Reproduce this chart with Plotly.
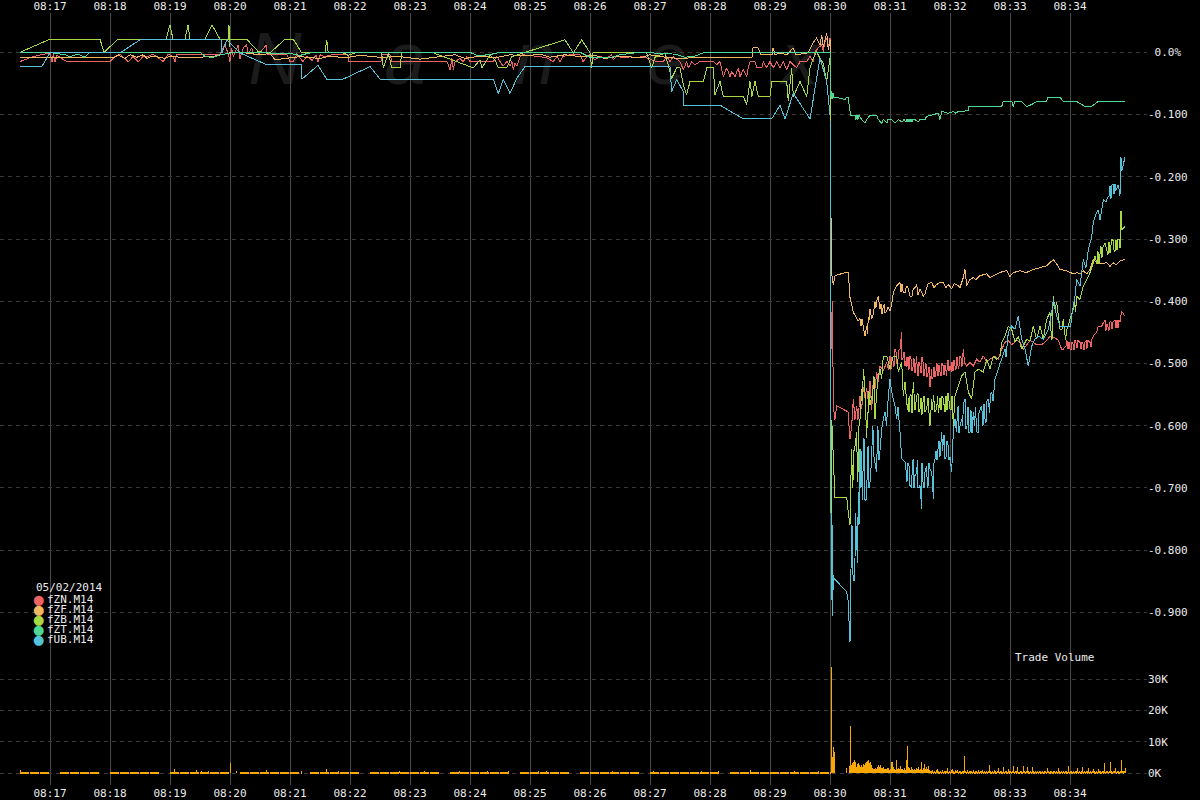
import pandas as pd
import plotly.graph_objects as go

# ---------------- data ----------------
SESSION = "05/02/2014"
T0 = pd.Timestamp("2014-05-02 08:17:00")      # times below are seconds after 08:17:00

series_names = ["fZN.M14", "fZF.M14", "fZB.M14", "fZT.M14", "fUB.M14"]
series_colors = ["#ee6464", "#f0b862", "#a8d844", "#4ed894", "#56c2da"]
VOL_COLOR = "#f8a800"

# (seconds, % change)
fzn = [(-30,-0.015),(-17,-0.007),(0,-0.001),(2,-0.015),(3.5,-0.003),(5,-0.015),(7,-0.005),(16.7,-0.015),(60,-0.015),(65,-0.007),(70,-0.003),(78.3,-0.015),(83,-0.007),(88.3,-0.015),(93,-0.007),(98,-0.007),(103,-0.003),(113.3,-0.015),(118,-0.003),(123,-0.007),(125,-0.015),(126.7,-0.003),(136.7,-0.003),(170,-0.003),(175,0.012),(178.3,-0.003),(180,-0.015),(181.7,0.007),(183.3,-0.007),(188.3,0.012),(190,-0.010),(193.3,0.007),(196.7,0.012),(198.3,-0.003),(201.7,0.007),(203.3,-0.003),(208.3,-0.003),(216.7,0.012),(217,-0.003),(236.7,-0.003),(240,-0.015),(243.3,-0.015),(246.7,-0.003),
       (250,-0.009),(253,-0.015),(257,-0.006),(262,-0.013),(266,-0.005),(268,-0.015),(270,-0.004),(274,-0.007),(282,-0.004),(298,-0.004),(298.3,-0.015),(331,-0.015),(332,-0.004),(340,-0.004),(342,-0.015),(383,-0.015),(397,-0.015),(400,-0.028),(402,-0.010),(403.3,-0.028),(405,-0.015),(410,-0.010),(413,-0.015),(417,-0.007),(420,-0.015),(430,-0.015),(443,-0.015),(447,-0.007),(450,-0.015),(453,-0.022),(457,-0.015),(460,-0.022),(462,-0.015),(463.3,-0.028),(465,-0.018),(467,-0.022),(470,-0.007),(473,-0.004),(490,-0.007),(497,-0.009),(503,-0.015),(507,-0.007),(510,-0.015),(513,-0.007),(520,-0.004),(530,-0.004),(533,-0.015),(537,-0.007),(540,-0.004),
       (541.7,-0.007),(545,-0.012),(550,-0.007),(556.7,-0.009),(561.7,-0.004),(563.3,-0.012),(566.7,-0.007),(576.7,-0.009),(580,-0.007),(586.7,-0.009),(591.7,-0.007),(596.7,-0.009),(606.7,-0.015),(613.3,-0.015),(616.7,-0.007),(620,-0.015),(623.3,-0.007),(630,-0.015),(633.3,-0.028),(636.7,-0.015),(638.3,-0.025),(641.7,-0.015),(645,-0.020),(650,-0.015),(663.3,-0.015),(666.7,-0.020),(670,-0.015),(673.3,-0.039),(676.7,-0.025),(680,-0.039),(681.7,-0.031),(685,-0.039),(688.3,-0.025),(690,-0.039),(693.3,-0.028),(696.7,-0.039),(698.3,-0.025),(700,-0.015),(705,-0.015),(706.7,-0.025),(711.7,-0.025),(713.3,-0.015),(716.7,-0.025),(720,-0.015),(723.3,-0.025),(726.7,-0.015),(730,-0.025),(733.3,-0.015),(736.7,-0.028),(740,-0.015),(743.3,-0.020),(746.7,-0.025),(750,-0.015),(756.7,-0.015),(760,-0.007),(763.3,-0.015),(765,0.001),(768.3,0.007),(771.7,0.012),(773.3,0.001),(775,0.017),(776.7,0.023),(778.3,0.007),(780,0.023),
       (780.7,-0.389),(781.7,-0.477),(782.5,-0.400),(783.3,-0.568),(785,-0.590),(786.7,-0.568),(798.3,-0.578),(799,-0.600),(800,-0.621),(801.7,-0.600),(803.3,-0.557),(805,-0.590),(806.7,-0.568),(808,-0.590),(810,-0.552),(811.7,-0.573),(813.3,-0.538),(815,-0.556),(816.7,-0.540),(818.3,-0.560),(820,-0.528),(821.7,-0.575),(823.3,-0.525),(825,-0.540),(826.7,-0.514),(828.3,-0.530),(830,-0.504),(833.3,-0.512),(836.7,-0.498),(838.3,-0.510),(840,-0.488),(843.3,-0.498),(845,-0.477),(848.3,-0.490),(850,-0.477),(851.7,-0.450),(853.3,-0.490),(855,-0.504),(856.7,-0.490),(860,-0.488),(863.3,-0.504),(866.7,-0.488),(870,-0.504),(872,-0.490),(875,-0.509),(878.3,-0.514),(880,-0.538),(881.7,-0.509),(883.3,-0.520),(886.7,-0.504),(890,-0.514),(893.3,-0.504),(896.7,-0.520),(900,-0.504),(901.7,-0.514),(905,-0.504),(908.3,-0.509),(911.7,-0.493),(913.3,-0.477),(916.7,-0.504),(920,-0.498),(923.3,-0.504),(926.7,-0.493),(930,-0.498),(933.3,-0.488),(936.7,-0.498),(940,-0.493),(945,-0.488),(948.3,-0.493),(951.7,-0.477),(955,-0.466),(958.3,-0.463),(961.7,-0.470),(966.7,-0.463),(970,-0.466),(973.3,-0.477),(976.7,-0.470),(980,-0.463),(983.3,-0.466),(986.7,-0.470),(991.7,-0.470),(996.7,-0.463),(1000,-0.456),(1005,-0.459),(1008.3,-0.463),(1011.7,-0.477),(1013.3,-0.477),(1016.7,-0.470),(1020,-0.477),(1023.3,-0.470),(1026.7,-0.470),(1030,-0.466),(1033.3,-0.470),(1036.7,-0.463),(1040,-0.466),(1043.3,-0.456),(1046.7,-0.450),(1048.3,-0.440),(1051.7,-0.440),(1053.3,-0.435),(1055,-0.430),(1060,-0.433),(1065,-0.430),(1070,-0.433),(1071.7,-0.416),(1075,-0.424)]
# rapid back-and-forth trades that make the thick red bands
fzn_band = [(841,-0.510),(842,-0.490),(844,-0.505),(846,-0.482),(847,-0.500),(849,-0.478),(852,-0.495),(854,-0.482),(857,-0.505),(858,-0.490),(859,-0.510),(861,-0.492),(862,-0.512),(864,-0.492),(865,-0.515),(867,-0.500),(868,-0.520),(869,-0.498),(871,-0.515),(873,-0.498),(874,-0.520),(876,-0.500),(877,-0.522),(879,-0.505),(882,-0.525),(884,-0.505),(885,-0.522),(887,-0.500),(888,-0.520),(889,-0.503),(891,-0.520),(892,-0.500),(894,-0.518),(895,-0.502),(897,-0.510),(898,-0.495),(899,-0.512),(902,-0.498),(903,-0.512),(904,-0.495),(906,-0.510),(907,-0.490),(909,-0.505),(910,-0.488),(912,-0.505),(914,-0.490),(915,-0.500),
            (1017,-0.463),(1018,-0.477),(1019,-0.465),(1021,-0.478),(1022,-0.466),(1024,-0.478),(1025,-0.463),(1027,-0.475),(1028,-0.463),(1031,-0.477),(1032,-0.466),(1034,-0.478),(1035,-0.466),(1037,-0.476),(1038,-0.463),(1041,-0.474),(1042,-0.461),(1056,-0.447),(1057,-0.436),(1059,-0.447),(1061,-0.433),(1062,-0.445),(1063,-0.433),(1066,-0.443),(1067,-0.430),(1068,-0.443),(1069,-0.430)]

fzf = [(-30,-0.008),(0,-0.008),(16,-0.008),(65,-0.008),(68,-0.004),(75,-0.010),(80,-0.004),(87,-0.008),(93,-0.004),(97,-0.010),(102,-0.006),(110,-0.008),(115,-0.010),(120,-0.006),(130,-0.008),(150,-0.008),(165,-0.006),(180,-0.001),(195,-0.001),(210,-0.004),(220,-0.002),(225,-0.012),(250,-0.007),(270,-0.010),(280,-0.006),(295,-0.009),(310,-0.005),(330,-0.008),(350,-0.007),(370,-0.011),(390,-0.007),(405,-0.004),(415,-0.010),(430,-0.006),(445,-0.009),(460,-0.004),(475,-0.006),(490,-0.003),(500,-0.008),(515,-0.004),(530,-0.007),(545,-0.005),(555,-0.010),(570,-0.006),(590,-0.009),(600,-0.004),(615,-0.008),(630,-0.010),(650,-0.008),(670,-0.009),(690,-0.008),(702,-0.008),(703,0.007),(708,0.007),(711,-0.004),(722,-0.004),(723,0.007),(725,-0.004),(730,-0.001),(737,-0.004),(743,0.007),(746,-0.004),(758,-0.001),(763,0.015),(766.7,0.023),(770,0.012),(771.7,0.028),(773.3,0.009),(776.7,0.031),(778.3,0.004),(780,0.019),
       (780.8,-0.250),(781.5,-0.300),(782,-0.360),(783.3,-0.373),(785,-0.359),(795,-0.354),(798.3,-0.354),(800,-0.394),(801.7,-0.405),(803.3,-0.418),(806,-0.425),(808,-0.432),(810,-0.428),(813.3,-0.442),(815,-0.456),(816.7,-0.440),(818.3,-0.425),(820,-0.413),(821.7,-0.428),(823.3,-0.420),(825,-0.402),(828.3,-0.392),(830,-0.413),(833.3,-0.408),(836,-0.418),(838,-0.410),(840,-0.416),(841.7,-0.405),(843.3,-0.386),(846.7,-0.375),(850,-0.370),(853.3,-0.386),(856.7,-0.375),(860,-0.392),(863.3,-0.380),(866.7,-0.373),(870,-0.380),(873.3,-0.392),(876.7,-0.378),(881.7,-0.370),(886.7,-0.373),(893.3,-0.370),(898.3,-0.373),(901.7,-0.380),(906.7,-0.373),(913.3,-0.362),(915,-0.349),(916.7,-0.375),(920,-0.365),(923.3,-0.362),(930,-0.359),(936.7,-0.356),(943.3,-0.359),(950,-0.354),(956.7,-0.351),(963.3,-0.354),(970,-0.351),(983.3,-0.349),(990,-0.346),(996.7,-0.343),(1003.3,-0.333),(1006.7,-0.340),(1010,-0.349),(1016.7,-0.351),(1023.3,-0.356),(1026.7,-0.354),(1030,-0.356),(1033.3,-0.351),(1036.7,-0.356),(1040,-0.349),(1043.3,-0.333),(1046.7,-0.338),(1050,-0.340),(1056.7,-0.338),(1063.3,-0.338),(1070,-0.335),(1075,-0.333)]
fzf_band = [(811,-0.440),(812,-0.428),(817.5,-0.452),(819,-0.430),(826,-0.410),(827,-0.398),(831,-0.405),(832,-0.420),(834.5,-0.405),(835,-0.418),(851,-0.385),(852,-0.372),(855,-0.386),(858,-0.378),(862,-0.392),(865,-0.378),(868,-0.390),(875,-0.388),(878,-0.372),(884,-0.378),(890,-0.370),(896,-0.378),(904,-0.372),(910,-0.378),(926,-0.365),(940,-0.362),(953,-0.352),(960,-0.360),(976,-0.354),(1060,-0.344),(1066,-0.342)]

fzb = [(-30,0.0),(0,0.021),(50,0.021),(54,0.0),(68,0.021),(116,0.021),(120,0.044),(123,0.021),(135,0.021),(138,0.044),(140,0.021),(155,0.021),(162,0.044),(170,0.021),(178.5,0.021),(179,0.044),(179.5,0.008),(180,0.021),(196.7,0.021),(208.3,0.001),(220,-0.001),(235,0.021),(243.3,0.021),(251.7,-0.001),(275,-0.001),(276.7,0.020),(278.3,-0.001),(293.3,-0.001),(298,-0.005),(305,-0.001),(331.7,-0.001),(333.3,-0.025),(338.3,-0.001),(341.7,-0.025),(350,-0.025),(351.7,-0.001),(383.3,-0.001),(423.3,-0.025),(430,-0.012),(432,-0.025),(440,-0.004),(445,-0.012),(448.3,-0.025),(456.7,-0.025),(461.7,-0.007),(473.3,-0.001),(515,0.020),(523.3,-0.001),(531.7,0.020),(540,-0.001),(541.7,-0.025),(543,-0.001),(596.7,-0.001),(601.7,-0.025),(605,-0.008),(615,-0.001),(621.7,-0.042),(626.7,-0.025),(630,-0.025),(633.3,-0.052),(636.7,-0.068),(640,-0.047),(653.3,-0.047),(656.7,-0.025),(663.3,-0.025),(665,-0.068),(670,-0.047),(673.3,-0.071),(693.3,-0.071),(696.7,-0.084),(700,-0.047),(702,-0.071),(705,-0.047),(708.3,-0.071),(720,-0.071),(721.7,-0.047),(736.7,-0.047),(738.3,-0.079),(741.7,-0.025),(743.3,-0.071),(750,-0.047),(756.7,-0.071),(760,-0.025),(763.3,-0.010),(766.7,0.001),(770,-0.010),(773.3,-0.018),(776.7,-0.047),(779,-0.020),(780,-0.010),
       (780.8,-0.530),(781.5,-0.740),(782.2,-0.600),(783.3,-0.653),(785,-0.715),(796.7,-0.715),(798.3,-0.739),(800,-0.760),(800.7,-0.700),(801.7,-0.637),(803.3,-0.680),(805,-0.632),(806.7,-0.610),(808.3,-0.665),(810,-0.589),(811.7,-0.541),(813.3,-0.509),(815,-0.546),(816.7,-0.620),(818.3,-0.578),(820,-0.567),(821.7,-0.552),(823.3,-0.530),(825,-0.589),(826.7,-0.546),(828.3,-0.520),(830,-0.509),(831.7,-0.525),(833.3,-0.488),(836.7,-0.488),(840,-0.509),(843.3,-0.488),(846.7,-0.488),(848.3,-0.514),(851.7,-0.498),(853.3,-0.552),(855,-0.530),(856.7,-0.562),(860,-0.552),(863.3,-0.530),(866.7,-0.552),(870,-0.573),(873.3,-0.557),(876.7,-0.573),(880,-0.600),(881.7,-0.557),(886.7,-0.573),(893.3,-0.557),(900,-0.573),(903.3,-0.600),(905,-0.552),(908.3,-0.536),(911.7,-0.520),(915,-0.514),(918.3,-0.546),(921.7,-0.557),(925,-0.514),(928.3,-0.509),(933.3,-0.514),(936.7,-0.493),(940,-0.509),(943.3,-0.488),(946.7,-0.493),(950,-0.488),(951.7,-0.466),(955,-0.456),(958.3,-0.440),(961.7,-0.445),(965,-0.466),(968.3,-0.456),(971.7,-0.477),(976.7,-0.461),(980,-0.464),(983.3,-0.440),(986.7,-0.461),(990,-0.440),(993.3,-0.461),(996.7,-0.429),(1000,-0.418),(1003.3,-0.392),(1005,-0.413),(1006.7,-0.402),(1010,-0.445),(1013.3,-0.429),(1020,-0.429),(1023.3,-0.413),(1026.7,-0.392),(1030,-0.397),(1033.3,-0.376),(1036.7,-0.365),(1040,-0.354),(1043.3,-0.338),(1045,-0.327),(1047,-0.340),(1050,-0.325),(1053,-0.313),(1055,-0.306),(1058,-0.325),(1061.7,-0.301),(1065,-0.320),(1068,-0.301),(1071,-0.255),(1071.7,-0.285),(1075,-0.280)]
fzb_band = [(802.5,-0.700),(804,-0.640),(807.5,-0.690),(809,-0.600),(812.5,-0.560),(814,-0.520),(817.5,-0.580),(819,-0.545),(822.5,-0.560),(824,-0.520),(857.5,-0.575),(858.5,-0.555),(859,-0.578),(861,-0.550),(862,-0.580),(864,-0.548),(865,-0.575),(868,-0.548),(869,-0.578),(871,-0.555),(872,-0.582),(874,-0.552),(875,-0.578),(878,-0.555),(879,-0.580),(882.5,-0.575),(883.5,-0.550),(885,-0.578),(887.5,-0.552),(888.5,-0.580),(890,-0.555),(891,-0.575),(892,-0.552),(895,-0.578),(896,-0.552),(897,-0.575),(898,-0.548),(901,-0.575),(902,-0.552),
            (1001,-0.448),(1002,-0.462),(1012,-0.445),(1015.5,-0.462),(1017,-0.445),(1024.5,-0.400),(1025.5,-0.418),(1048,-0.320),(1049,-0.338),(1051,-0.312),(1052,-0.330),(1059,-0.305),(1060,-0.322),(1063,-0.302),(1064,-0.318),(1066,-0.302),(1067,-0.318),(1069,-0.300),(1070,-0.315)]

fzt = [(-30,0.0),(-2,0.0),(15,-0.004),(20,-0.007),(28,-0.003),(35,-0.008),(40,0.0),(150,0.0),(155,-0.006),(162,-0.009),(170,-0.004),(182,-0.001),(190,0.0),(240,-0.002),(250,-0.005),(260,-0.001),(350,0.0),(420,0.0),(428,-0.006),(442,-0.003),(450,0.0),(530,0.0),(540,-0.008),(560,-0.009),(570,-0.004),(590,0.0),(625,-0.003),(635,-0.008),(645,-0.006),(655,0.0),(780,0.0),
       (781,-0.071),(781.5,-0.062),(782,-0.075),(783,-0.066),(784,-0.074),(785,-0.072),(795,-0.076),(796.7,-0.072),(798.3,-0.072),(799.3,-0.087),(800.7,-0.101),(805,-0.101),(806,-0.108),(807,-0.101),(808,-0.108),(809,-0.101),(811.7,-0.108),(815,-0.114),(816.7,-0.108),(820,-0.101),(826.7,-0.101),(828.3,-0.108),(831.7,-0.114),(833.3,-0.108),(837,-0.113),(838,-0.108),(841.7,-0.108),(845,-0.114),(848.3,-0.108),(852,-0.112),(854,-0.108),(865,-0.108),(868,-0.112),(870,-0.108),(875,-0.108),(876.7,-0.103),(888.3,-0.098),(890,-0.108),(891.7,-0.095),(898.3,-0.098),(903.3,-0.095),(906,-0.098),(908,-0.095),(918.3,-0.094),(918.4,-0.087),(951.7,-0.087),(953.3,-0.079),(961.7,-0.079),(963.3,-0.087),(965,-0.079),(971.7,-0.079),(976.7,-0.087),(981.7,-0.084),(986.7,-0.079),(996.7,-0.079),(997.7,-0.072),(1010,-0.072),(1013.3,-0.079),(1026.7,-0.079),(1035,-0.087),(1041.7,-0.087),(1048.3,-0.079),(1075,-0.079)]
fzt_band = [(805.5,-0.108),(806.5,-0.101),(807.5,-0.108),(808.5,-0.101),(856,-0.112),(857,-0.108),(858,-0.112),(859,-0.108),(860,-0.112),(861,-0.108),(862,-0.112),(863,-0.108)]

fub = [(-30,-0.023),(-8.3,-0.023),(0,-0.001),(70,-0.001),(90,0.020),(171,0.020),(172,-0.001),(176.7,0.020),(190,-0.001),(216.7,-0.020),(251.7,-0.020),(252,-0.043),(268,-0.021),(276.7,-0.043),(293.3,-0.043),(320,-0.023),(330,-0.043),(443.3,-0.043),(448.3,-0.066),(453.3,-0.044),(460,-0.066),(466.7,-0.042),(475,-0.023),(620,-0.023),(621.7,-0.063),(626.7,-0.044),(633.3,-0.063),(633.5,-0.085),(670,-0.085),(693.3,-0.107),(721.7,-0.107),(730,-0.085),(735,-0.107),(743.3,-0.066),(760,-0.107),(770,-0.009),(776.7,-0.047),(780,-0.100),
       (781,-0.740),(781.5,-0.880),(782,-0.760),(782.5,-0.905),(783.3,-0.840),(784,-0.845),(796.7,-0.867),(798,-0.880),(800,-0.947),(800.5,-0.870),(801.7,-0.787),(803,-0.840),(805,-0.813),(806,-0.760),(807,-0.800),(808.3,-0.707),(809,-0.760),(810,-0.637),(811,-0.700),(813.3,-0.648),(815,-0.720),(816.7,-0.717),(818.3,-0.632),(820,-0.690),(821.7,-0.653),(823.3,-0.610),(825,-0.660),(826.7,-0.675),(828.3,-0.610),(830,-0.640),(831.7,-0.605),(833.3,-0.589),(835,-0.578),(836.5,-0.600),(838.3,-0.552),(840,-0.525),(841.7,-0.546),(845,-0.568),(846.7,-0.589),(848,-0.570),(850,-0.610),(851.7,-0.653),(855,-0.658),(856.7,-0.680),(858,-0.660),(860,-0.696),(863.3,-0.653),(865,-0.680),(866.7,-0.675),(868,-0.700),(870,-0.696),(871.7,-0.733),(873,-0.690),(875,-0.675),(878.3,-0.696),(880,-0.670),(881.7,-0.675),(883.3,-0.717),(885,-0.653),(888.3,-0.632),(890,-0.650),(891.7,-0.610),(895,-0.653),(898.3,-0.632),(900,-0.650),(901.7,-0.675),(903.3,-0.610),(905,-0.589),(908.3,-0.568),(910,-0.600),(911.7,-0.589),(915,-0.557),(917,-0.600),(920,-0.610),(923.3,-0.578),(926.7,-0.610),(929,-0.580),(931.7,-0.568),(935,-0.589),(938.3,-0.557),(941.7,-0.546),(943,-0.560),(945,-0.525),(948.3,-0.509),(950,-0.500),(951.7,-0.493),(955,-0.477),(956,-0.490),(958.3,-0.450),(961.7,-0.440),(965,-0.445),(968.3,-0.424),(971.7,-0.461),(975,-0.477),(978.3,-0.504),(981.7,-0.472),(985,-0.461),(988.3,-0.456),(993.3,-0.461),(998.3,-0.445),(1001.7,-0.418),(1003.3,-0.397),(1006.7,-0.424),(1010,-0.440),(1020.7,-0.440),(1021.7,-0.424),(1025,-0.391),(1026.7,-0.365),(1030,-0.375),(1033.3,-0.333),(1036,-0.346),(1038.3,-0.317),(1041.7,-0.297),(1043.3,-0.273),(1046.7,-0.257),(1048.3,-0.253),(1050,-0.270),(1053.3,-0.237),(1056,-0.240),(1058.3,-0.231),(1063.3,-0.213),(1066,-0.222),(1068.3,-0.213),(1070,-0.230),(1071,-0.169),(1071.7,-0.191),(1075,-0.169)]
fub_band = [(801,-0.830),(802,-0.760),(804,-0.850),(805.5,-0.740),(807.5,-0.820),(809.5,-0.700),(811.5,-0.640),(812.5,-0.720),(814,-0.620),(817.5,-0.640),(819,-0.700),(822.5,-0.600),(824,-0.650),(827.5,-0.600),(829,-0.655),
            (857,-0.690),(859,-0.665),(861.5,-0.700),(862.5,-0.660),(864,-0.700),(867.5,-0.655),(869,-0.700),(872,-0.660),(874,-0.700),(876.5,-0.665),(877.5,-0.700),(879,-0.660),(882.5,-0.690),(884,-0.660),(886,-0.640),(887,-0.655),(889,-0.625),(892.5,-0.640),(894,-0.615),(896,-0.650),(897,-0.625),(899,-0.655),(902.5,-0.640),
            (906.5,-0.610),(907.5,-0.575),(909,-0.612),(912.5,-0.600),(913.5,-0.565),(916,-0.605),(918,-0.570),(919,-0.612),(921,-0.575),(922,-0.612),(924.5,-0.600),(925.5,-0.570),(928,-0.612),(930,-0.575),(933,-0.600),(934,-0.565),(936,-0.595),(937,-0.560),(939.5,-0.580),(940.5,-0.548),
            (1059,-0.232),(1060,-0.215),(1061,-0.235),(1062,-0.213),(1064,-0.228),(1065,-0.212)]

series_data = [fzn + fzn_band, fzf + fzf_band, fzb + fzb_band, fzt + fzt_band, fub + fub_band]

# trade volume (thousands of contracts)
pre_vol_start, pre_vol_step = -30, 10          # 10-second buckets before the release
pre_vol_k = [0.4,0.3,0.4,0,0.4,0.3,0.4,0.4,0,0.3, 0.4,0.4,0.3,0.4,0,0.4,0.3,0.4,0.4,0.3,
             0.4,0,0.4,0.3,0.4,0.4,0.3,0.4,0,0.4, 0.3,0.4,0.4,0.3,0,0.4,0.4,0.3,0.4,0.4,
             0.3,0.4,0,0.4,0.4,0.3,0.4,0.4,0.3,0, 0.4,0.4,0.3,0.4,0.4,0,0.3,0.4,0.4,0.3,
             0.4,0.4,0,0.3,0.4,0.4,0.3,0.4,0.4,0.3, 0,0.4,0.4,0.3,0.4,0.4,0.3,0.4,0.3,0.4, 0.4]
pre_spike_sec = [-30,124,146,151,158,180,186,216,251,276,288,349,374,409,437,458,488,496,562,603,651,668,700,744,768]
pre_spike_k   = [1.1,1.4,1.0,0.8,0.9,3.2,0.9,1.2,0.6,1.3,0.6,0.7,0.6,0.8,0.6,0.7,0.8,0.6,0.7,0.9,0.8,0.7,1.0,0.9,0.8]
post_vol_start = 780                              # per-second volume from 08:30:00
post_vol_k = [0.3,33.9,5.3,8.5,6.9,0,0,0,0,0,0,0,0,0,0,0,1.6,0,0,2.2,15.1,
              2.6,3.2,3.5,4.1,3.5,2.1,2.9,3.2,2.5,2.1,2.6,2.1,2.9,2.5,3.2,3.7,4.0,4.1,3.2,3.5,
              2.6,1.8,1.4,1.4,1.6,1.4,2.0,2.5,2.1,2.6,1.6,1.6,2.0,1.4,1.4,1.3,1.6,1.8,1.1,1.4,
              3.7,3.5,2.0,1.3,1.1,4.2,1.4,1.8,1.4,2.2,1.3,1.3,1.0,1.8,1.1,4.2,8.8,2.1,1.6,1.2,
              2.0,1.3,1.1,1.4,1.0,1.6,1.3,2.1,1.1,1.4,3.5,1.1,1.6,2.9,1.4,2.0,1.4,2.2,1.1,0.8,
              0.6,1.0,0.4,0.8,0.5,1.2,1.4,0.6,0.3,0.9, 0.5,1.1,0.4,0.7,0.6,0.9,1.8,0.5,0.8,0.4,
              1.0,1.4,0.6,0.5,1.1,0.7,1.1,0.4,0.8,0.6, 0.5,0.9,0.6,5.6,0.8,0.5,1.0,0.4,0.7,0.6,
              0.9,0.5,1.1,0.4,0.6,0.8,0.5,1.0,0.4,0.7, 0.6,1.1,0.5,0.8,0.4,0.7,0.5,0.9,2.6,0.6,
              0.4,0.8,0.5,1.0,0.6,0.4,0.9,1.8,0.5,0.7, 0.6,0.4,2.1,0.5,0.8,0.6,0.4,1.4,0.6,0.9,
              0.5,0.7,2.2,0.4,0.8,0.6,2.1,0.5,0.4,0.9, 0.6,0.5,2.2,0.7,0.4,0.8,2.1,0.6,0.5,0.9,
              0.4,1.9,0.6,0.5,0.8,0.4,0.7,0.5,0.9,0.6, 0.4,0.8,0.5,0.6,0.9,0.4,1.8,0.7,0.5,0.6,
              0.8,0.4,0.6,0.9,0.5,0.7,0.4,1.6,0.6,0.5, 0.9,0.4,0.7,0.5,0.8,0.6,0.4,2.2,0.5,0.7,
              0.6,0.4,0.9,0.5,0.7,0.6,1.6,0.4,0.8,0.5, 0.6,1.9,0.4,0.7,0.5,0.9,0.6,1.6,0.4,0.7,
              0.5,0.8,1.4,0.6,0.4,0.9,0.5,1.3,0.7,0.6, 0.4,0.8,0.6,3.2,0.5,0.9,0.7,0.4,0.8,3.5,
              0.6,0.5,0.9,0.7,1.6,0.5,0.8,0.6,0.4,0.9, 4.1,0.7,0.6,0.9,1.8]

price_ticks = [0.0, -0.1, -0.2, -0.3, -0.4, -0.5, -0.6, -0.7, -0.8, -0.9]
price_tick_text = ["\u00a00.0%", "-0.100", "-0.200", "-0.300", "-0.400", "-0.500", "-0.600", "-0.700", "-0.800", "-0.900"]
vol_ticks = [0, 10000, 20000, 30000]
vol_tick_text = ["0K", "10K", "20K", "30K"]
minute_ticks = [f"2014-05-02 08:{m:02d}:00" for m in range(17, 35)]
watermark = "Nanex"

# ---------------- figure ----------------
def ts(secs):
    return [T0 + pd.Timedelta(seconds=float(s)) for s in secs]

W, H = 1200, 800
ML, MR, MT, MB = 0, 53, 13, 13
PW, PH = W - ML - MR, H - MT - MB
def px(x):  # horizontal paper position of a pixel column
    return (x - ML) / PW
def py(y):  # vertical paper position of a pixel row
    return (H - MB - y) / PH

fig = go.Figure()

pre_sec = [pre_vol_start + i * pre_vol_step for i in range(len(pre_vol_k))]
fig.add_trace(go.Bar(x=ts(pre_sec), y=[k * 1000 for k in pre_vol_k], yaxis="y2",
                     width=9000, offset=0, marker=dict(color=VOL_COLOR, line=dict(width=0))))
post_sec = [post_vol_start + i for i in range(len(post_vol_k))]
fig.add_trace(go.Bar(x=ts(pre_spike_sec + post_sec), y=[k * 1000 for k in pre_spike_k + post_vol_k],
                     yaxis="y2", width=1000, offset=0, marker=dict(color=VOL_COLOR, line=dict(width=0))))

for name, color, data in zip(series_names, series_colors, series_data):
    data = sorted(data)
    fig.add_trace(go.Scatter(x=ts([p[0] for p in data]), y=[p[1] for p in data], mode="lines",
                             name=name, line=dict(color=color, width=1, simplify=False)))

x_range = [T0 + pd.Timedelta(seconds=-50), T0 + pd.Timedelta(seconds=-50 + PW)]
# an empty companion trace so the top time axis is drawn
fig.add_trace(go.Scatter(x=x_range, y=[None, None], xaxis="x2", mode="lines",
                         hoverinfo="skip", showlegend=False))

axis_font = dict(family="DejaVu Sans Mono", size=11, color="#ececec")
GRID_V = "#4a4a4a"
GRID_H = "#3a3a3a"

fig.update_layout(
    width=W, height=H, margin=dict(l=ML, r=MR, t=MT, b=MB, pad=0),
    paper_bgcolor="black", plot_bgcolor="black", showlegend=False, bargap=0,
    font=axis_font,
    xaxis=dict(type="date", range=x_range, tickvals=minute_ticks, tickformat="%H:%M",
               showgrid=True, gridcolor=GRID_V, gridwidth=1, zeroline=False, showline=False,
               ticks="", tickfont=axis_font, side="bottom"),
    xaxis2=dict(type="date", range=x_range, tickvals=minute_ticks, tickformat="%H:%M",
                overlaying="x", anchor="y", side="top", showgrid=False, zeroline=False,
                showline=False, ticks="", tickfont=axis_font),
    yaxis=dict(range=[-1.1772, 0.0631], side="right", tickvals=price_ticks, ticktext=price_tick_text,
               showgrid=True, gridcolor=GRID_H, griddash="4px,4px", gridwidth=1, zeroline=False,
               showline=False, ticks="", tickfont=axis_font),
    yaxis2=dict(range=[-3714, 241990], overlaying="y", side="right", tickvals=vol_ticks,
                ticktext=vol_tick_text, showgrid=True, gridcolor=GRID_H, griddash="4px,4px",
                gridwidth=1, zeroline=False, showline=False, ticks="", tickfont=axis_font),
)

# watermark behind everything
for ch, xc in zip(watermark, [275, 405, 535, 667, 800]):
    fig.add_shape(type="rect", xref="paper", yref="paper", x0=px(xc - 45), x1=px(xc + 45),
                  y0=py(90), y1=py(14), line=dict(width=0), fillcolor="rgba(0,0,0,0)", layer="below",
                  label=dict(text=f"<i>{ch}</i>", textposition="middle center",
                             font=dict(family="Liberation Sans", size=74, color="#1b1b1b")))

# legend block (date + coloured dots)
fig.add_annotation(xref="paper", yref="paper", x=px(34), y=py(589), xanchor="left", yanchor="middle",
                   text=SESSION, showarrow=False, font=axis_font)
for i, (name, color) in enumerate(zip(series_names, series_colors)):
    yy = 601 + 10 * i
    fig.add_annotation(xref="paper", yref="paper", x=px(38.5), y=py(yy), xanchor="center", yanchor="middle",
                       text="●", showarrow=False, font=dict(family="DejaVu Sans", size=13, color=color))
    fig.add_annotation(xref="paper", yref="paper", x=px(45), y=py(yy), xanchor="left", yanchor="middle",
                       text=name, showarrow=False, font=axis_font)

fig.add_annotation(xref="paper", yref="paper", x=px(1013), y=py(659), xanchor="left", yanchor="middle",
                   text="Trade Volume", showarrow=False, font=axis_font)

post = ("document.body.style.margin='0px';document.body.style.overflow='hidden';"
        "var s=document.createElement('style');"
        "s.innerHTML='.scatterlayer path{shape-rendering:crispEdges}';document.head.appendChild(s);")
fig.write_html("out.html", config={"displayModeBar": False}, post_script=post)
